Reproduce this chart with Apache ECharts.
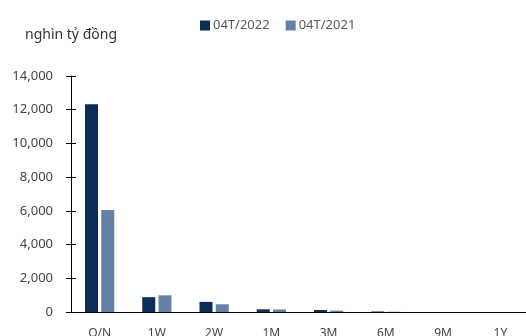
<!DOCTYPE html>
<html>
<head>
<meta charset="utf-8">
<script src="https://cdn.jsdelivr.net/npm/echarts@6/dist/echarts.min.js"></script>
<style>
html,body{margin:0;padding:0;background:#fff;}
#chart{width:526px;height:336px;}
</style>
</head>
<body>
<div id="chart"></div>
<script>
// Interbank lending volume by term (thousand billion VND)
const categories = ['O/N', '1W', '2W', '1M', '3M', '6M', '9M', '1Y'];
const series2022 = [12330, 880, 600, 160, 120, 30, 0, 0];
const series2021 = [6050, 990, 460, 150, 80, 15, 0, 0];
const yTicks = [0, 2000, 4000, 6000, 8000, 10000, 12000, 14000];

const FONT = 'Noto Sans';
const chart = echarts.init(document.getElementById('chart'));
const yMax = yTicks[yTicks.length - 1];
const yStep = yTicks[1] - yTicks[0];

chart.setOption({
  animation: false,
  textStyle: { fontFamily: FONT },
  graphic: [{
    type: 'text', left: 25, top: 28,
    style: { text: 'nghìn tỷ đồng', fontFamily: FONT, fontSize: 14, fill: '#333' }
  }],
  legend: {
    top: 14, left: 195,
    itemWidth: 10, itemHeight: 10, itemGap: 16,
    icon: 'rect',
    textStyle: { fontFamily: FONT, fontSize: 13, color: '#595959', padding: [0, 0, 0, -2] },
    data: ['04T/2022', '04T/2021']
  },
  grid: { left: 71, top: 76, width: 458, height: 236, outerBoundsMode: 'none', containLabel: false },
  xAxis: {
    type: 'category',
    data: categories,
    axisLine: { lineStyle: { color: '#000', width: 1 } },
    axisTick: { inside: true, length: 5, lineStyle: { color: '#000' } },
    axisLabel: { margin: 16, fontFamily: FONT, fontSize: 12, color: '#444' }
  },
  yAxis: [{
    type: 'value', min: 0, max: yMax, interval: yStep,
    axisLine: { show: true, lineStyle: { color: '#000' } },
    axisTick: { show: true, length: 5, lineStyle: { color: '#000' } },
    splitLine: { show: false },
    axisLabel: {
      margin: 18, fontFamily: FONT, fontSize: 13, color: '#444',
      formatter: v => v.toLocaleString('en-US')
    }
  }, {
    // inner half of the y ticks, so they cross the axis line
    type: 'value', position: 'left', min: 0, max: yMax, interval: yStep,
    axisLine: { show: false },
    axisTick: { show: true, inside: true, length: 5, lineStyle: { color: '#000' } },
    axisLabel: { show: false },
    splitLine: { show: false }
  }],
  series: [{
    name: '04T/2022', type: 'bar', data: series2022,
    barWidth: 13, barGap: '25%',
    itemStyle: { color: '#0b2d58' }
  }, {
    name: '04T/2021', type: 'bar', data: series2021,
    barWidth: 13,
    itemStyle: { color: '#6482a8' }
  }]
});
</script>
</body>
</html>
